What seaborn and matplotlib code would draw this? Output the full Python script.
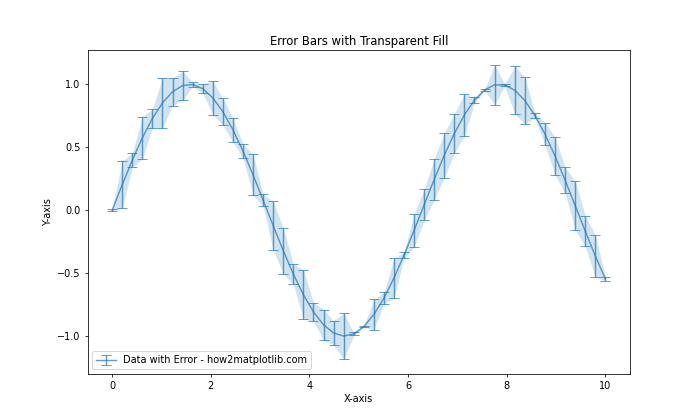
import numpy as np
import matplotlib
matplotlib.use("Agg")
import matplotlib.pyplot as plt
import seaborn as sns

x = np.linspace(0, 10, 50)
y = np.sin(x)
yerr = [0.008, 0.187, 0.057, 0.169, 0.074, 0.199, 0.110, 0.114, 0.016, 0.036,
        0.133, 0.106, 0.097, 0.056, 0.163, 0.046, 0.194, 0.182, 0.081, 0.195,
        0.074, 0.121, 0.096, 0.183, 0.012, 0.005, 0.120, 0.045, 0.158, 0.023,
        0.131, 0.123, 0.163, 0.177, 0.155, 0.167, 0.021, 0.005, 0.157, 0.009,
        0.190, 0.186, 0.020, 0.088, 0.151, 0.102, 0.195, 0.122, 0.167, 0.017]
yerr = np.array(yerr)

title = "Error Bars with Transparent Fill"
label = "Data with Error - how2matplotlib.com"

fig, ax = plt.subplots(figsize=(10, 6), dpi=70)
ax.fill_between(x, y - yerr, y + yerr, color="C0", alpha=0.2, linewidth=0)
sns.lineplot(x=x, y=y, ax=ax, color="C0", linewidth=1.5, alpha=0.7)
line = ax.get_lines()[-1]
eb = ax.errorbar(x, y, yerr=yerr, fmt="none", ecolor="C0", capsize=5,
                 elinewidth=1.5, alpha=0.7)
ax.set_title(title)
ax.set_xlabel("X-axis")
ax.set_ylabel("Y-axis")
ax.legend([(line, eb)], [label], loc="lower left")
fig.savefig("out.png", dpi=70)
